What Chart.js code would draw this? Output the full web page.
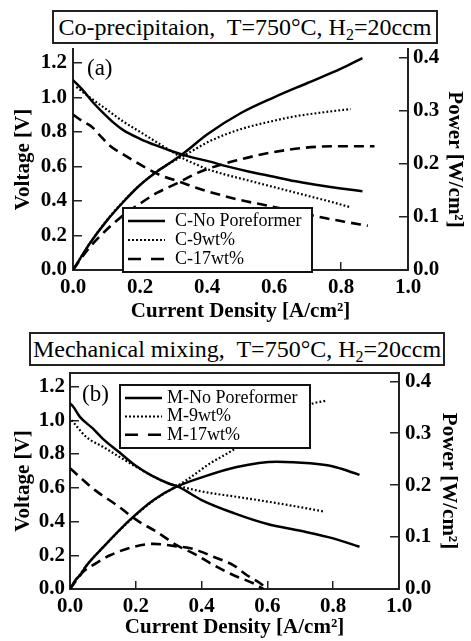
<!DOCTYPE html>
<html><head><meta charset="utf-8">
<script src="https://cdn.jsdelivr.net/npm/chart.js@4.4.0/dist/chart.umd.min.js"></script>
<style>
html,body{margin:0;padding:0;background:#fff;width:471px;height:641px;overflow:hidden;position:relative}
.wrap{position:absolute;left:0;width:471px}
canvas{display:block}
.ttl{position:absolute;border:2px solid #222;box-sizing:border-box;font-family:'Liberation Serif','Times New Roman',serif;font-size:24px;color:#000;text-align:center;white-space:pre;line-height:30px;background:#fff}
.ttl sub{font-size:16px;line-height:0;vertical-align:-5px}
</style></head><body>
<div class="wrap" style="top:0;height:330px"><canvas id="c1" width="471" height="330"></canvas></div>
<div class="wrap" style="top:330px;height:311px"><canvas id="c2" width="471" height="311"></canvas></div>
<div class="ttl" style="left:52px;top:10px;width:386px;height:34px">Co-precipitaion,  T=750°C, H<sub>2</sub>=20ccm</div>
<div class="ttl" style="left:29px;top:332px;width:416px;height:34px">Mechanical mixing,  T=750°C, H<sub>2</sub>=20ccm</div>
<script>
// ---------- Panel (a): Co-precipitation ----------
const aLabels = ['C-No Poreformer', 'C-9wt%', 'C-17wt%'];
const aNoV_I = [0, 0.03, 0.06, 0.09, 0.12, 0.15, 0.2, 0.25, 0.3, 0.35, 0.4, 0.46, 0.53, 0.6, 0.66, 0.73, 0.8, 0.864];
const aNoV   = [1.10, 1.04, 0.97, 0.91, 0.855, 0.81, 0.76, 0.72, 0.685, 0.655, 0.632, 0.60, 0.568, 0.54, 0.515, 0.492, 0.472, 0.456];
const a9V_I  = [0.01, 0.05, 0.1, 0.15, 0.2, 0.25, 0.3, 0.33, 0.37, 0.4, 0.45, 0.5, 0.6, 0.7, 0.77, 0.829];
const a9V    = [1.06, 1.0, 0.93, 0.86, 0.80, 0.74, 0.68, 0.645, 0.61, 0.585, 0.555, 0.53, 0.48, 0.43, 0.395, 0.363];
const a17V_I = [0, 0.03, 0.056, 0.08, 0.11, 0.15, 0.21, 0.26, 0.32, 0.37, 0.43, 0.5, 0.58, 0.66, 0.74, 0.81, 0.88];
const a17V   = [0.90, 0.86, 0.83, 0.78, 0.72, 0.67, 0.60, 0.55, 0.51, 0.475, 0.44, 0.405, 0.373, 0.34, 0.305, 0.28, 0.256];
const aNoP_I = [0, 0.02, 0.05, 0.1, 0.15, 0.2, 0.25, 0.3, 0.335, 0.4, 0.5, 0.6, 0.7, 0.8, 0.864];
const aNoP   = [0, 0.02, 0.05, 0.092, 0.128, 0.16, 0.185, 0.206, 0.222, 0.255, 0.295, 0.325, 0.352, 0.379, 0.399];
const a9P_I  = [0, 0.05, 0.1, 0.15, 0.2, 0.25, 0.3, 0.33, 0.41, 0.5, 0.6, 0.66, 0.75, 0.829];
const a9P    = [0, 0.05, 0.093, 0.129, 0.16, 0.185, 0.205, 0.215, 0.243, 0.265, 0.281, 0.289, 0.297, 0.303];
const a17P_I = [0, 0.041, 0.081, 0.14, 0.2, 0.25, 0.31, 0.38, 0.48, 0.6, 0.73, 0.83, 0.9];
const a17P   = [0, 0.036, 0.064, 0.098, 0.125, 0.145, 0.163, 0.185, 0.205, 0.222, 0.232, 0.233, 0.233];

// ---------- Panel (b): Mechanical mixing ----------
const bLabels = ['M-No Poreformer', 'M-9wt%', 'M-17wt%'];
const bNoV_I = [0, 0.01, 0.03, 0.07, 0.1, 0.15, 0.2, 0.25, 0.3, 0.33, 0.4, 0.5, 0.6, 0.7, 0.8, 0.88];
const bNoV   = [1.10, 1.08, 1.02, 0.95, 0.89, 0.81, 0.73, 0.67, 0.625, 0.605, 0.527, 0.448, 0.385, 0.345, 0.30, 0.25];
const b9V_I  = [0.005, 0.05, 0.1, 0.15, 0.2, 0.25, 0.3, 0.33, 0.4, 0.5, 0.6, 0.7, 0.775];
const b9V    = [1.0, 0.90, 0.843, 0.783, 0.725, 0.67, 0.625, 0.61, 0.578, 0.548, 0.518, 0.485, 0.458];
const b17V_I = [0, 0.076, 0.142, 0.203, 0.263, 0.324, 0.385, 0.436, 0.496, 0.557, 0.588];
const b17V   = [0.715, 0.586, 0.497, 0.408, 0.339, 0.26, 0.201, 0.142, 0.083, 0.034, 0.0];
const bNoP_I = [0, 0.02, 0.03, 0.05, 0.1, 0.182, 0.253, 0.324, 0.405, 0.507, 0.628, 0.73, 0.8, 0.861, 0.88];
const bNoP   = [0, 0.02, 0.026, 0.045, 0.08, 0.133, 0.171, 0.197, 0.216, 0.235, 0.245, 0.242, 0.236, 0.224, 0.22];
const b9P_I  = [0, 0.05, 0.1, 0.182, 0.253, 0.324, 0.355, 0.426, 0.486, 0.55, 0.6, 0.65, 0.7, 0.73, 0.78];
const b9P    = [0, 0.045, 0.08, 0.132, 0.17, 0.198, 0.21, 0.242, 0.264, 0.29, 0.31, 0.325, 0.34, 0.355, 0.363];
const b17P_I = [0, 0.04, 0.08, 0.122, 0.192, 0.253, 0.314, 0.375, 0.436, 0.496, 0.537, 0.578, 0.6];
const b17P   = [0, 0.033, 0.05, 0.065, 0.081, 0.087, 0.083, 0.077, 0.062, 0.046, 0.027, 0.011, 0.0];

// tick labels
const xTicks = [0, 0.2, 0.4, 0.6, 0.8, 1.0];

Chart.defaults.font.family = "'Liberation Serif', 'Times New Roman', serif";
Chart.defaults.color = '#000';

const pts = (xs, ys) => xs.map((x, i) => ({x, y: ys[i]}));
const LINE = [
  {borderDash: [], borderWidth: 2.5, legDash: [], legW: 2.4},
  {borderDash: [1.8, 2.2], borderWidth: 2.2, legDash: [2, 2], legW: 2},
  {borderDash: [10, 6], borderWidth: 2.6, legDash: [13, 10], legW: 2.6}
];
function ds(label, xs, ys, k, axis) {
  return {label, data: pts(xs, ys), yAxisID: axis, showLine: true, pointRadius: 0,
    borderColor: '#000', backgroundColor: '#000', borderWidth: LINE[k].borderWidth,
    borderDash: LINE[k].borderDash, cubicInterpolationMode: 'monotone', fill: false};
}

const boxLegend = {
  id: 'boxLegend',
  afterDatasetsDraw(chart, args, o) {
    const ctx = chart.ctx; ctx.save();
    if (o.topFrame) {
      const a = chart.chartArea;
      ctx.strokeStyle = '#222'; ctx.lineWidth = 2;
      ctx.beginPath(); ctx.moveTo(a.left, a.top); ctx.lineTo(a.right, a.top); ctx.stroke();
    }
    ctx.fillStyle = '#fff'; ctx.fillRect(o.x, o.y, o.w, o.h);
    ctx.lineWidth = 2; ctx.strokeStyle = '#111'; ctx.strokeRect(o.x, o.y, o.w, o.h);
    o.labels.forEach((t, i) => {
      const y = o.y + o.first + i * o.gap;
      ctx.beginPath(); ctx.setLineDash(LINE[i].legDash); ctx.lineWidth = LINE[i].legW; ctx.strokeStyle = '#000';
      ctx.moveTo(o.x + o.sx0, y); ctx.lineTo(o.x + o.sx1, y); ctx.stroke();
      ctx.setLineDash([]);
      ctx.font = "18px 'Liberation Serif'"; ctx.fillStyle = '#000'; ctx.textBaseline = 'middle'; ctx.textAlign = 'left';
      ctx.fillText(t, o.x + o.tx, y);
    });
    ctx.font = "23px 'Liberation Serif'"; ctx.textBaseline = 'middle';
    ctx.fillText(o.tag, o.tagX, o.tagY);
    ctx.restore();
  }
};

function makeChart(id, datasets, L) {
  const tickFont = {size: 21, weight: 'bold'};
  const titleFont = {size: 21, weight: 'bold'};
  return new Chart(document.getElementById(id), {
    type: 'scatter',
    data: {datasets},
    plugins: [boxLegend],
    options: {
      responsive: false, animation: false,
      layout: {padding: {top: L.padTop, left: 0, right: 0, bottom: 0}},
      plugins: {legend: {display: false}, tooltip: {enabled: false}, boxLegend: L.legend},
      scales: {
        x: {type: 'linear', position: 'bottom', min: 0, max: 1,
          afterBuildTicks: s => { s.ticks = xTicks.map(v => ({value: v})); },
          ticks: {callback: v => v.toFixed(1), font: tickFont, color: '#000', padding: L.xPad, maxRotation: 0},
          grid: {drawOnChartArea: false, tickLength: -8, color: '#222', lineWidth: 1.5},
          border: {color: '#222', width: 2},
          title: {display: true, text: 'Current Density [A/cm²]', font: titleFont, color: '#000', padding: {top: 0, bottom: L.xTitlePad}},
          afterFit: s => { s.height = L.xH; }},
        yV: {type: 'linear', position: 'left', min: 0, max: 1.28,
          ticks: {stepSize: 0.2, includeBounds: false, callback: v => v.toFixed(1), font: tickFont, color: '#000', padding: L.yVPad},
          grid: {drawOnChartArea: false, tickLength: -9, color: '#222', lineWidth: 1.5},
          border: {color: '#222', width: 2},
          title: {display: true, text: 'Voltage [V]', font: titleFont, color: '#000', padding: {top: L.yVTitlePad, bottom: 0}},
          afterFit: s => { s.width = L.yVW; }},
        yP: {type: 'linear', position: 'right', min: 0, max: 0.416,
          ticks: {stepSize: 0.1, includeBounds: false, callback: v => v.toFixed(1), font: tickFont, color: '#000', padding: L.yPPad},
          grid: {drawOnChartArea: false, tickLength: -9, color: '#222', lineWidth: 1.5},
          border: {color: '#222', width: 2},
          title: {display: true, text: 'Power [W/cm²]', font: titleFont, color: '#000', padding: {top: L.yPTitlePad, bottom: 0}},
          afterFit: s => { s.width = L.yPW; }}
      }
    }
  });
}

makeChart('c1', [
  ds(aLabels[0], aNoV_I, aNoV, 0, 'yV'), ds(aLabels[1], a9V_I, a9V, 1, 'yV'), ds(aLabels[2], a17V_I, a17V, 2, 'yV'),
  ds(aLabels[0], aNoP_I, aNoP, 0, 'yP'), ds(aLabels[1], a9P_I, a9P, 1, 'yP'), ds(aLabels[2], a17P_I, a17P, 2, 'yP')
], {padTop: 49, xH: 60, yVW: 73, yPW: 63, xPad: 12.5, yVPad: 15, yPPad: 14, xTitlePad: 5.4, yVTitlePad: 11.4, yPTitlePad: 4.4,
  legend: {x: 123, y: 208, w: 189, h: 64, first: 13, gap: 19, sx0: 5, sx1: 42, tx: 52, labels: aLabels, tag: '(a)', tagX: 87, tagY: 69, topFrame: false}});

makeChart('c2', [
  ds(bLabels[0], bNoV_I, bNoV, 0, 'yV'), ds(bLabels[1], b9V_I, b9V, 1, 'yV'), ds(bLabels[2], b17V_I, b17V, 2, 'yV'),
  ds(bLabels[0], bNoP_I, bNoP, 0, 'yP'), ds(bLabels[1], b9P_I, b9P, 1, 'yP'), ds(bLabels[2], b17P_I, b17P, 2, 'yP')
], {padTop: 43, xH: 52, yVW: 70, yPW: 72, xPad: 13.2, yVPad: 14, yPPad: 15, xTitlePad: 0.4, yVTitlePad: 11.4, yPTitlePad: 9.9,
  legend: {x: 120, y: 55, w: 190, h: 63, first: 13, gap: 18.4, sx0: 5, sx1: 42, tx: 47, labels: bLabels, tag: '(b)', tagX: 82, tagY: 65, topFrame: true}});
</script>
</body></html>
